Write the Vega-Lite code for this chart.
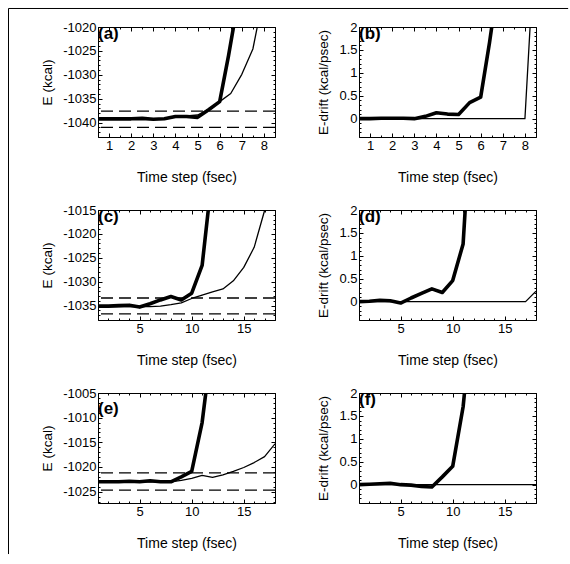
{
  "$schema": "https://vega.github.io/schema/vega-lite/v6.json",
  "padding": {"left": 7, "top": 7, "right": 0, "bottom": 0},
  "background": "white",
  "config": {
    "font": "Liberation Sans",
    "view": {"stroke": "black", "strokeWidth": 1},
    "axis": {
      "domain": false, "grid": false, "labelOverlap": false,
      "labelFont": "Liberation Sans", "titleFont": "Liberation Sans",
      "labelFontSize": 13, "titleFontSize": 13.5, "titleFontWeight": "normal",
      "labelColor": "black", "titleColor": "black", "tickColor": "black",
      "tickSize": -4, "labelPadding": 6, "labelExpr": "datum.value + ''"
    },
    "axisX": {"titlePadding": 18, "titleFontSize": 14},
    "axisY": {"titlePadding": 8}
  },
  "datasets": {
    "a": [
      {"t": 0.5, "E": -1039.2, "s": "s1"}, {"t": 1, "E": -1039.2, "s": "s1"}, {"t": 1.5, "E": -1039.2, "s": "s1"}, {"t": 2, "E": -1039.2, "s": "s1"}, {"t": 2.5, "E": -1039.1, "s": "s1"}, {"t": 3, "E": -1039.3, "s": "s1"}, {"t": 3.5, "E": -1039.2, "s": "s1"}, {"t": 4, "E": -1038.7, "s": "s1"}, {"t": 4.5, "E": -1038.7, "s": "s1"}, {"t": 5, "E": -1038.9, "s": "s1"}, {"t": 5.5, "E": -1037.3, "s": "s1"}, {"t": 6, "E": -1035.6, "s": "s1"}, {"t": 6.4, "E": -1026, "s": "s1"}, {"t": 7, "E": -1010, "s": "s1"},
      {"t": 0.5, "E": -1039.2, "s": "s2"}, {"t": 1, "E": -1039.2, "s": "s2"}, {"t": 1.5, "E": -1039.2, "s": "s2"}, {"t": 2, "E": -1039.2, "s": "s2"}, {"t": 2.5, "E": -1039.1, "s": "s2"}, {"t": 3, "E": -1039.2, "s": "s2"}, {"t": 3.5, "E": -1039.1, "s": "s2"}, {"t": 4, "E": -1038.7, "s": "s2"}, {"t": 4.5, "E": -1038.6, "s": "s2"}, {"t": 5, "E": -1038.4, "s": "s2"}, {"t": 5.5, "E": -1037.2, "s": "s2"}, {"t": 6, "E": -1035.6, "s": "s2"}, {"t": 6.5, "E": -1033.9, "s": "s2"}, {"t": 7, "E": -1029.9, "s": "s2"}, {"t": 7.5, "E": -1024.6, "s": "s2"}, {"t": 8, "E": -1013, "s": "s2"}, {"t": 8.5, "E": -995, "s": "s2"}
    ],
    "aref": [{"E": -1037.6}, {"E": -1041.0}],
    "b": [
      {"t": 0.5, "D": 0, "s": "s1"}, {"t": 1, "D": 0, "s": "s1"}, {"t": 1.5, "D": 0.01, "s": "s1"}, {"t": 2, "D": 0.01, "s": "s1"}, {"t": 2.5, "D": 0.01, "s": "s1"}, {"t": 3, "D": 0, "s": "s1"}, {"t": 3.5, "D": 0.05, "s": "s1"}, {"t": 4, "D": 0.13, "s": "s1"}, {"t": 4.5, "D": 0.1, "s": "s1"}, {"t": 5, "D": 0.09, "s": "s1"}, {"t": 5.5, "D": 0.35, "s": "s1"}, {"t": 6, "D": 0.47, "s": "s1"}, {"t": 6.4, "D": 1.66, "s": "s1"}, {"t": 7, "D": 3.7, "s": "s1"},
      {"t": 0.5, "D": 0, "s": "s2"}, {"t": 1, "D": 0, "s": "s2"}, {"t": 2, "D": 0, "s": "s2"}, {"t": 3, "D": 0, "s": "s2"}, {"t": 4, "D": 0, "s": "s2"}, {"t": 5, "D": 0, "s": "s2"}, {"t": 6, "D": 0, "s": "s2"}, {"t": 7, "D": 0, "s": "s2"}, {"t": 8, "D": 0, "s": "s2"}, {"t": 8.5, "D": 4.3, "s": "s2"}
    ],
    "c": [
      {"t": 1, "E": -1035.1, "s": "s1"}, {"t": 2, "E": -1035.1, "s": "s1"}, {"t": 3, "E": -1035.0, "s": "s1"}, {"t": 4, "E": -1034.9, "s": "s1"}, {"t": 5, "E": -1035.3, "s": "s1"}, {"t": 6, "E": -1034.6, "s": "s1"}, {"t": 7, "E": -1033.8, "s": "s1"}, {"t": 8, "E": -1033.1, "s": "s1"}, {"t": 9, "E": -1033.8, "s": "s1"}, {"t": 10, "E": -1032.4, "s": "s1"}, {"t": 11, "E": -1026.6, "s": "s1"}, {"t": 12, "E": -1007, "s": "s1"},
      {"t": 1, "E": -1035.2, "s": "s2"}, {"t": 2, "E": -1035.2, "s": "s2"}, {"t": 3, "E": -1035.2, "s": "s2"}, {"t": 4, "E": -1035.2, "s": "s2"}, {"t": 5, "E": -1035.2, "s": "s2"}, {"t": 6, "E": -1035.2, "s": "s2"}, {"t": 7, "E": -1035.1, "s": "s2"}, {"t": 8, "E": -1034.8, "s": "s2"}, {"t": 9, "E": -1034.4, "s": "s2"}, {"t": 10, "E": -1033.5, "s": "s2"}, {"t": 11, "E": -1032.8, "s": "s2"}, {"t": 12, "E": -1032.1, "s": "s2"}, {"t": 13, "E": -1031.5, "s": "s2"}, {"t": 14, "E": -1029.8, "s": "s2"}, {"t": 15, "E": -1027.0, "s": "s2"}, {"t": 16, "E": -1022.8, "s": "s2"}, {"t": 17, "E": -1015.1, "s": "s2"}, {"t": 18, "E": -1003, "s": "s2"}
    ],
    "cref": [{"E": -1033.4}, {"E": -1036.7}],
    "d": [
      {"t": 1, "D": 0, "s": "s1"}, {"t": 2, "D": 0.01, "s": "s1"}, {"t": 3, "D": 0.03, "s": "s1"}, {"t": 4, "D": 0.02, "s": "s1"}, {"t": 5, "D": -0.03, "s": "s1"}, {"t": 6, "D": 0.08, "s": "s1"}, {"t": 7, "D": 0.18, "s": "s1"}, {"t": 8, "D": 0.28, "s": "s1"}, {"t": 9, "D": 0.2, "s": "s1"}, {"t": 10, "D": 0.46, "s": "s1"}, {"t": 11, "D": 1.26, "s": "s1"}, {"t": 12, "D": 5, "s": "s1"},
      {"t": 1, "D": 0, "s": "s2"}, {"t": 5, "D": 0, "s": "s2"}, {"t": 10, "D": 0, "s": "s2"}, {"t": 15, "D": 0, "s": "s2"}, {"t": 17, "D": 0, "s": "s2"}, {"t": 18, "D": 0.23, "s": "s2"}
    ],
    "e": [
      {"t": 1, "E": -1023.0, "s": "s1"}, {"t": 2, "E": -1023.0, "s": "s1"}, {"t": 3, "E": -1023.0, "s": "s1"}, {"t": 4, "E": -1022.9, "s": "s1"}, {"t": 5, "E": -1023.0, "s": "s1"}, {"t": 6, "E": -1022.8, "s": "s1"}, {"t": 7, "E": -1023.0, "s": "s1"}, {"t": 8, "E": -1023.0, "s": "s1"}, {"t": 9, "E": -1022.0, "s": "s1"}, {"t": 10, "E": -1020.9, "s": "s1"}, {"t": 11, "E": -1011, "s": "s1"}, {"t": 12, "E": -994, "s": "s1"},
      {"t": 1, "E": -1023.0, "s": "s2"}, {"t": 2, "E": -1023.0, "s": "s2"}, {"t": 3, "E": -1023.0, "s": "s2"}, {"t": 4, "E": -1023.0, "s": "s2"}, {"t": 5, "E": -1023.0, "s": "s2"}, {"t": 6, "E": -1023.0, "s": "s2"}, {"t": 7, "E": -1023.0, "s": "s2"}, {"t": 8, "E": -1023.0, "s": "s2"}, {"t": 9, "E": -1022.7, "s": "s2"}, {"t": 10, "E": -1022.3, "s": "s2"}, {"t": 11, "E": -1021.7, "s": "s2"}, {"t": 12, "E": -1022.1, "s": "s2"}, {"t": 13, "E": -1021.6, "s": "s2"}, {"t": 14, "E": -1020.9, "s": "s2"}, {"t": 15, "E": -1020.1, "s": "s2"}, {"t": 16, "E": -1019.1, "s": "s2"}, {"t": 17, "E": -1017.9, "s": "s2"}, {"t": 18, "E": -1015.3, "s": "s2"}
    ],
    "eref": [{"E": -1021.2}, {"E": -1024.7}],
    "f": [
      {"t": 1, "D": 0, "s": "s1"}, {"t": 2, "D": 0.01, "s": "s1"}, {"t": 3, "D": 0.02, "s": "s1"}, {"t": 4, "D": 0.03, "s": "s1"}, {"t": 5, "D": 0.0, "s": "s1"}, {"t": 6, "D": -0.01, "s": "s1"}, {"t": 7, "D": -0.04, "s": "s1"}, {"t": 8, "D": -0.05, "s": "s1"}, {"t": 9, "D": 0.17, "s": "s1"}, {"t": 10, "D": 0.4, "s": "s1"}, {"t": 11, "D": 1.7, "s": "s1"}, {"t": 12, "D": 4, "s": "s1"},
      {"t": 1, "D": 0, "s": "s2"}, {"t": 18, "D": 0, "s": "s2"}
    ]
  },
  "columns": 2,
  "bounds": "flush",
  "spacing": {"row": 73, "column": 84},
  "concat": [
    {
      "width": 177, "height": 110,
      "resolve": {"axis": {"x": "independent", "y": "independent"}},
      "layer": [
        {"data": {"name": "a"}, "mark": {"type": "line", "clip": true, "color": "black", "strokeJoin": "round"},
         "encoding": {
           "x": {"field": "t", "type": "quantitative", "scale": {"domain": [0.5, 8.5], "nice": false, "zero": false}, "axis": {"title": "Time step (fsec)", "values": [1, 2, 3, 4, 5, 6, 7, 8]}},
           "y": {"field": "E", "type": "quantitative", "scale": {"domain": [-1043, -1020], "nice": false, "zero": false}, "axis": {"title": "E (kcal)", "values": [-1040, -1035, -1030, -1025, -1020]}},
           "detail": {"field": "s"},
           "strokeWidth": {"field": "s", "type": "nominal", "scale": {"domain": ["s1", "s2"], "range": [3.6, 1.3]}, "legend": null}}},
        {"data": {"name": "aref"}, "mark": {"type": "rule", "strokeDash": [12, 6], "strokeWidth": 1.3, "color": "black"},
         "encoding": {"y": {"field": "E", "type": "quantitative", "axis": null}}},
        {"data": {"values": [{}]}, "mark": {"type": "rule", "color": "black", "strokeWidth": 1},
         "encoding": {
           "x": {"datum": -3.545, "type": "quantitative", "axis": null},
           "y": {"datum": -1016.13, "type": "quantitative", "axis": null},
           "y2": {"datum": -1130.2}}},
        {"data": {"values": [{}]}, "mark": {"type": "rule", "color": "black", "strokeWidth": 1},
         "encoding": {
           "x": {"datum": -3.545, "type": "quantitative", "axis": null},
           "x2": {"datum": 21.75},
           "y": {"datum": -1016.13, "type": "quantitative", "axis": null}}},
        {"data": {"values": [{}]}, "mark": {"type": "text", "font": "Liberation Sans", "fontWeight": "bold", "fontSize": 17, "align": "left", "baseline": "top", "color": "black", "dy": -1},
         "encoding": {
           "x": {"datum": 0.5, "type": "quantitative", "axis": {"orient": "top", "labels": false, "title": null, "values": [1, 2, 3, 4, 5, 6, 7, 8]}},
           "y": {"datum": -1020, "type": "quantitative", "axis": {"orient": "right", "labels": false, "title": null, "values": [-1040, -1035, -1030, -1025, -1020]}},
           "text": {"value": "(a)"}}},
        {"data": {"values": [{}]}, "mark": {"type": "text", "text": ""},
         "encoding": {
           "x": {"datum": 0.5, "type": "quantitative", "axis": {"orient": "bottom", "labels": false, "title": null, "tickSize": -2, "values": [0.5, 1, 1.5, 2, 2.5, 3, 3.5, 4, 4.5, 5, 5.5, 6, 6.5, 7, 7.5, 8, 8.5]}},
           "y": {"datum": -1020, "type": "quantitative", "axis": {"orient": "left", "labels": false, "title": null, "tickSize": -2, "values": [-1043, -1042, -1041, -1040, -1039, -1038, -1037, -1036, -1035, -1034, -1033, -1032, -1031, -1030, -1029, -1028, -1027, -1026, -1025, -1024, -1023, -1022, -1021, -1020]}}}},
        {"data": {"values": [{}]}, "mark": {"type": "text", "text": ""},
         "encoding": {
           "x": {"datum": 0.5, "type": "quantitative", "axis": {"orient": "top", "labels": false, "title": null, "tickSize": -2, "values": [0.5, 1, 1.5, 2, 2.5, 3, 3.5, 4, 4.5, 5, 5.5, 6, 6.5, 7, 7.5, 8, 8.5]}},
           "y": {"datum": -1020, "type": "quantitative", "axis": {"orient": "right", "labels": false, "title": null, "tickSize": -2, "values": [-1043, -1042, -1041, -1040, -1039, -1038, -1037, -1036, -1035, -1034, -1033, -1032, -1031, -1030, -1029, -1028, -1027, -1026, -1025, -1024, -1023, -1022, -1021, -1020]}}}}
      ]
    },
    {
      "width": 177, "height": 110,
      "resolve": {"axis": {"x": "independent", "y": "independent"}},
      "layer": [
        {"data": {"name": "b"}, "mark": {"type": "line", "clip": true, "color": "black", "strokeJoin": "round"},
         "encoding": {
           "x": {"field": "t", "type": "quantitative", "scale": {"domain": [0.5, 8.5], "nice": false, "zero": false}, "axis": {"title": "Time step (fsec)", "values": [1, 2, 3, 4, 5, 6, 7, 8]}},
           "y": {"field": "D", "type": "quantitative", "scale": {"domain": [-0.4, 2], "nice": false, "zero": false}, "axis": {"title": "E-drift (kcal/psec)", "values": [0, 0.5, 1, 1.5, 2]}},
           "detail": {"field": "s"},
           "strokeWidth": {"field": "s", "type": "nominal", "scale": {"domain": ["s1", "s2"], "range": [3.6, 1.3]}, "legend": null}}},
        {"data": {"values": [{}]}, "mark": {"type": "text", "font": "Liberation Sans", "fontWeight": "bold", "fontSize": 17, "align": "left", "baseline": "top", "color": "black", "dy": -1},
         "encoding": {
           "x": {"datum": 0.5, "type": "quantitative", "axis": {"orient": "top", "labels": false, "title": null, "values": [1, 2, 3, 4, 5, 6, 7, 8]}},
           "y": {"datum": 2, "type": "quantitative", "axis": {"orient": "right", "labels": false, "title": null, "values": [0, 0.5, 1, 1.5, 2]}},
           "text": {"value": "(b)"}}},
        {"data": {"values": [{}]}, "mark": {"type": "text", "text": ""},
         "encoding": {
           "x": {"datum": 0.5, "type": "quantitative", "axis": {"orient": "bottom", "labels": false, "title": null, "tickSize": -2, "values": [0.5, 1, 1.5, 2, 2.5, 3, 3.5, 4, 4.5, 5, 5.5, 6, 6.5, 7, 7.5, 8, 8.5]}},
           "y": {"datum": 2, "type": "quantitative", "axis": {"orient": "left", "labels": false, "title": null, "tickSize": -2, "values": [-0.4, -0.3, -0.2, -0.1, 0, 0.1, 0.2, 0.3, 0.4, 0.5, 0.6, 0.7, 0.8, 0.9, 1, 1.1, 1.2, 1.3, 1.4, 1.5, 1.6, 1.7, 1.8, 1.9, 2]}}}},
        {"data": {"values": [{}]}, "mark": {"type": "text", "text": ""},
         "encoding": {
           "x": {"datum": 0.5, "type": "quantitative", "axis": {"orient": "top", "labels": false, "title": null, "tickSize": -2, "values": [0.5, 1, 1.5, 2, 2.5, 3, 3.5, 4, 4.5, 5, 5.5, 6, 6.5, 7, 7.5, 8, 8.5]}},
           "y": {"datum": 2, "type": "quantitative", "axis": {"orient": "right", "labels": false, "title": null, "tickSize": -2, "values": [-0.4, -0.3, -0.2, -0.1, 0, 0.1, 0.2, 0.3, 0.4, 0.5, 0.6, 0.7, 0.8, 0.9, 1, 1.1, 1.2, 1.3, 1.4, 1.5, 1.6, 1.7, 1.8, 1.9, 2]}}}}
      ]
    },
    {
      "width": 177, "height": 110,
      "resolve": {"axis": {"x": "independent", "y": "independent"}},
      "layer": [
        {"data": {"name": "c"}, "mark": {"type": "line", "clip": true, "color": "black", "strokeJoin": "round"},
         "encoding": {
           "x": {"field": "t", "type": "quantitative", "scale": {"domain": [1, 18], "nice": false, "zero": false}, "axis": {"title": "Time step (fsec)", "values": [5, 10, 15]}},
           "y": {"field": "E", "type": "quantitative", "scale": {"domain": [-1038, -1015], "nice": false, "zero": false}, "axis": {"title": "E (kcal)", "values": [-1035, -1030, -1025, -1020, -1015]}},
           "detail": {"field": "s"},
           "strokeWidth": {"field": "s", "type": "nominal", "scale": {"domain": ["s1", "s2"], "range": [3.6, 1.3]}, "legend": null}}},
        {"data": {"name": "cref"}, "mark": {"type": "rule", "strokeDash": [12, 6], "strokeWidth": 1.3, "color": "black"},
         "encoding": {"y": {"field": "E", "type": "quantitative", "axis": null}}},
        {"data": {"values": [{}]}, "mark": {"type": "text", "font": "Liberation Sans", "fontWeight": "bold", "fontSize": 17, "align": "left", "baseline": "top", "color": "black", "dy": -1},
         "encoding": {
           "x": {"datum": 1, "type": "quantitative", "axis": {"orient": "top", "labels": false, "title": null, "values": [5, 10, 15]}},
           "y": {"datum": -1015, "type": "quantitative", "axis": {"orient": "right", "labels": false, "title": null, "values": [-1035, -1030, -1025, -1020, -1015]}},
           "text": {"value": "(c)"}}},
        {"data": {"values": [{}]}, "mark": {"type": "text", "text": ""},
         "encoding": {
           "x": {"datum": 1, "type": "quantitative", "axis": {"orient": "bottom", "labels": false, "title": null, "tickSize": -2, "values": [1, 2, 3, 4, 5, 6, 7, 8, 9, 10, 11, 12, 13, 14, 15, 16, 17, 18]}},
           "y": {"datum": -1015, "type": "quantitative", "axis": {"orient": "left", "labels": false, "title": null, "tickSize": -2, "values": [-1038, -1037, -1036, -1035, -1034, -1033, -1032, -1031, -1030, -1029, -1028, -1027, -1026, -1025, -1024, -1023, -1022, -1021, -1020, -1019, -1018, -1017, -1016, -1015]}}}},
        {"data": {"values": [{}]}, "mark": {"type": "text", "text": ""},
         "encoding": {
           "x": {"datum": 1, "type": "quantitative", "axis": {"orient": "top", "labels": false, "title": null, "tickSize": -2, "values": [1, 2, 3, 4, 5, 6, 7, 8, 9, 10, 11, 12, 13, 14, 15, 16, 17, 18]}},
           "y": {"datum": -1015, "type": "quantitative", "axis": {"orient": "right", "labels": false, "title": null, "tickSize": -2, "values": [-1038, -1037, -1036, -1035, -1034, -1033, -1032, -1031, -1030, -1029, -1028, -1027, -1026, -1025, -1024, -1023, -1022, -1021, -1020, -1019, -1018, -1017, -1016, -1015]}}}}
      ]
    },
    {
      "width": 177, "height": 110,
      "resolve": {"axis": {"x": "independent", "y": "independent"}},
      "layer": [
        {"data": {"name": "d"}, "mark": {"type": "line", "clip": true, "color": "black", "strokeJoin": "round"},
         "encoding": {
           "x": {"field": "t", "type": "quantitative", "scale": {"domain": [1, 18], "nice": false, "zero": false}, "axis": {"title": "Time step (fsec)", "values": [5, 10, 15]}},
           "y": {"field": "D", "type": "quantitative", "scale": {"domain": [-0.4, 2], "nice": false, "zero": false}, "axis": {"title": "E-drift (kcal/psec)", "values": [0, 0.5, 1, 1.5, 2]}},
           "detail": {"field": "s"},
           "strokeWidth": {"field": "s", "type": "nominal", "scale": {"domain": ["s1", "s2"], "range": [3.6, 1.3]}, "legend": null}}},
        {"data": {"values": [{}]}, "mark": {"type": "text", "font": "Liberation Sans", "fontWeight": "bold", "fontSize": 17, "align": "left", "baseline": "top", "color": "black", "dy": -1},
         "encoding": {
           "x": {"datum": 1, "type": "quantitative", "axis": {"orient": "top", "labels": false, "title": null, "values": [5, 10, 15]}},
           "y": {"datum": 2, "type": "quantitative", "axis": {"orient": "right", "labels": false, "title": null, "values": [0, 0.5, 1, 1.5, 2]}},
           "text": {"value": "(d)"}}},
        {"data": {"values": [{}]}, "mark": {"type": "text", "text": ""},
         "encoding": {
           "x": {"datum": 1, "type": "quantitative", "axis": {"orient": "bottom", "labels": false, "title": null, "tickSize": -2, "values": [1, 2, 3, 4, 5, 6, 7, 8, 9, 10, 11, 12, 13, 14, 15, 16, 17, 18]}},
           "y": {"datum": 2, "type": "quantitative", "axis": {"orient": "left", "labels": false, "title": null, "tickSize": -2, "values": [-0.4, -0.3, -0.2, -0.1, 0, 0.1, 0.2, 0.3, 0.4, 0.5, 0.6, 0.7, 0.8, 0.9, 1, 1.1, 1.2, 1.3, 1.4, 1.5, 1.6, 1.7, 1.8, 1.9, 2]}}}},
        {"data": {"values": [{}]}, "mark": {"type": "text", "text": ""},
         "encoding": {
           "x": {"datum": 1, "type": "quantitative", "axis": {"orient": "top", "labels": false, "title": null, "tickSize": -2, "values": [1, 2, 3, 4, 5, 6, 7, 8, 9, 10, 11, 12, 13, 14, 15, 16, 17, 18]}},
           "y": {"datum": 2, "type": "quantitative", "axis": {"orient": "right", "labels": false, "title": null, "tickSize": -2, "values": [-0.4, -0.3, -0.2, -0.1, 0, 0.1, 0.2, 0.3, 0.4, 0.5, 0.6, 0.7, 0.8, 0.9, 1, 1.1, 1.2, 1.3, 1.4, 1.5, 1.6, 1.7, 1.8, 1.9, 2]}}}}
      ]
    },
    {
      "width": 177, "height": 110,
      "resolve": {"axis": {"x": "independent", "y": "independent"}},
      "layer": [
        {"data": {"name": "e"}, "mark": {"type": "line", "clip": true, "color": "black", "strokeJoin": "round"},
         "encoding": {
           "x": {"field": "t", "type": "quantitative", "scale": {"domain": [1, 18], "nice": false, "zero": false}, "axis": {"title": "Time step (fsec)", "values": [5, 10, 15]}},
           "y": {"field": "E", "type": "quantitative", "scale": {"domain": [-1027.3, -1005], "nice": false, "zero": false}, "axis": {"title": "E (kcal)", "values": [-1025, -1020, -1015, -1010, -1005]}},
           "detail": {"field": "s"},
           "strokeWidth": {"field": "s", "type": "nominal", "scale": {"domain": ["s1", "s2"], "range": [3.6, 1.3]}, "legend": null}}},
        {"data": {"name": "eref"}, "mark": {"type": "rule", "strokeDash": [12, 6], "strokeWidth": 1.3, "color": "black"},
         "encoding": {"y": {"field": "E", "type": "quantitative", "axis": null}}},
        {"data": {"values": [{}]}, "mark": {"type": "text", "font": "Liberation Sans", "fontWeight": "bold", "fontSize": 17, "align": "left", "baseline": "top", "color": "black", "dy": 8},
         "encoding": {
           "x": {"datum": 1, "type": "quantitative", "axis": {"orient": "top", "labels": false, "title": null, "values": [5, 10, 15]}},
           "y": {"datum": -1005, "type": "quantitative", "axis": {"orient": "right", "labels": false, "title": null, "values": [-1025, -1020, -1015, -1010, -1005]}},
           "text": {"value": "(e)"}}},
        {"data": {"values": [{}]}, "mark": {"type": "text", "text": ""},
         "encoding": {
           "x": {"datum": 1, "type": "quantitative", "axis": {"orient": "bottom", "labels": false, "title": null, "tickSize": -2, "values": [1, 2, 3, 4, 5, 6, 7, 8, 9, 10, 11, 12, 13, 14, 15, 16, 17, 18]}},
           "y": {"datum": -1005, "type": "quantitative", "axis": {"orient": "left", "labels": false, "title": null, "tickSize": -2, "values": [-1027, -1026, -1025, -1024, -1023, -1022, -1021, -1020, -1019, -1018, -1017, -1016, -1015, -1014, -1013, -1012, -1011, -1010, -1009, -1008, -1007, -1006, -1005]}}}},
        {"data": {"values": [{}]}, "mark": {"type": "text", "text": ""},
         "encoding": {
           "x": {"datum": 1, "type": "quantitative", "axis": {"orient": "top", "labels": false, "title": null, "tickSize": -2, "values": [1, 2, 3, 4, 5, 6, 7, 8, 9, 10, 11, 12, 13, 14, 15, 16, 17, 18]}},
           "y": {"datum": -1005, "type": "quantitative", "axis": {"orient": "right", "labels": false, "title": null, "tickSize": -2, "values": [-1027, -1026, -1025, -1024, -1023, -1022, -1021, -1020, -1019, -1018, -1017, -1016, -1015, -1014, -1013, -1012, -1011, -1010, -1009, -1008, -1007, -1006, -1005]}}}}
      ]
    },
    {
      "width": 177, "height": 110,
      "resolve": {"axis": {"x": "independent", "y": "independent"}},
      "layer": [
        {"data": {"name": "f"}, "mark": {"type": "line", "clip": true, "color": "black", "strokeJoin": "round"},
         "encoding": {
           "x": {"field": "t", "type": "quantitative", "scale": {"domain": [1, 18], "nice": false, "zero": false}, "axis": {"title": "Time step (fsec)", "values": [5, 10, 15]}},
           "y": {"field": "D", "type": "quantitative", "scale": {"domain": [-0.4, 2], "nice": false, "zero": false}, "axis": {"title": "E-drift (kcal/psec)", "values": [0, 0.5, 1, 1.5, 2]}},
           "detail": {"field": "s"},
           "strokeWidth": {"field": "s", "type": "nominal", "scale": {"domain": ["s1", "s2"], "range": [3.6, 1.3]}, "legend": null}}},
        {"data": {"values": [{}]}, "mark": {"type": "text", "font": "Liberation Sans", "fontWeight": "bold", "fontSize": 17, "align": "left", "baseline": "top", "color": "black", "dy": -1},
         "encoding": {
           "x": {"datum": 1, "type": "quantitative", "axis": {"orient": "top", "labels": false, "title": null, "values": [5, 10, 15]}},
           "y": {"datum": 2, "type": "quantitative", "axis": {"orient": "right", "labels": false, "title": null, "values": [0, 0.5, 1, 1.5, 2]}},
           "text": {"value": "(f)"}}},
        {"data": {"values": [{}]}, "mark": {"type": "text", "text": ""},
         "encoding": {
           "x": {"datum": 1, "type": "quantitative", "axis": {"orient": "bottom", "labels": false, "title": null, "tickSize": -2, "values": [1, 2, 3, 4, 5, 6, 7, 8, 9, 10, 11, 12, 13, 14, 15, 16, 17, 18]}},
           "y": {"datum": 2, "type": "quantitative", "axis": {"orient": "left", "labels": false, "title": null, "tickSize": -2, "values": [-0.4, -0.3, -0.2, -0.1, 0, 0.1, 0.2, 0.3, 0.4, 0.5, 0.6, 0.7, 0.8, 0.9, 1, 1.1, 1.2, 1.3, 1.4, 1.5, 1.6, 1.7, 1.8, 1.9, 2]}}}},
        {"data": {"values": [{}]}, "mark": {"type": "text", "text": ""},
         "encoding": {
           "x": {"datum": 1, "type": "quantitative", "axis": {"orient": "top", "labels": false, "title": null, "tickSize": -2, "values": [1, 2, 3, 4, 5, 6, 7, 8, 9, 10, 11, 12, 13, 14, 15, 16, 17, 18]}},
           "y": {"datum": 2, "type": "quantitative", "axis": {"orient": "right", "labels": false, "title": null, "tickSize": -2, "values": [-0.4, -0.3, -0.2, -0.1, 0, 0.1, 0.2, 0.3, 0.4, 0.5, 0.6, 0.7, 0.8, 0.9, 1, 1.1, 1.2, 1.3, 1.4, 1.5, 1.6, 1.7, 1.8, 1.9, 2]}}}}
      ]
    }
  ]
}
